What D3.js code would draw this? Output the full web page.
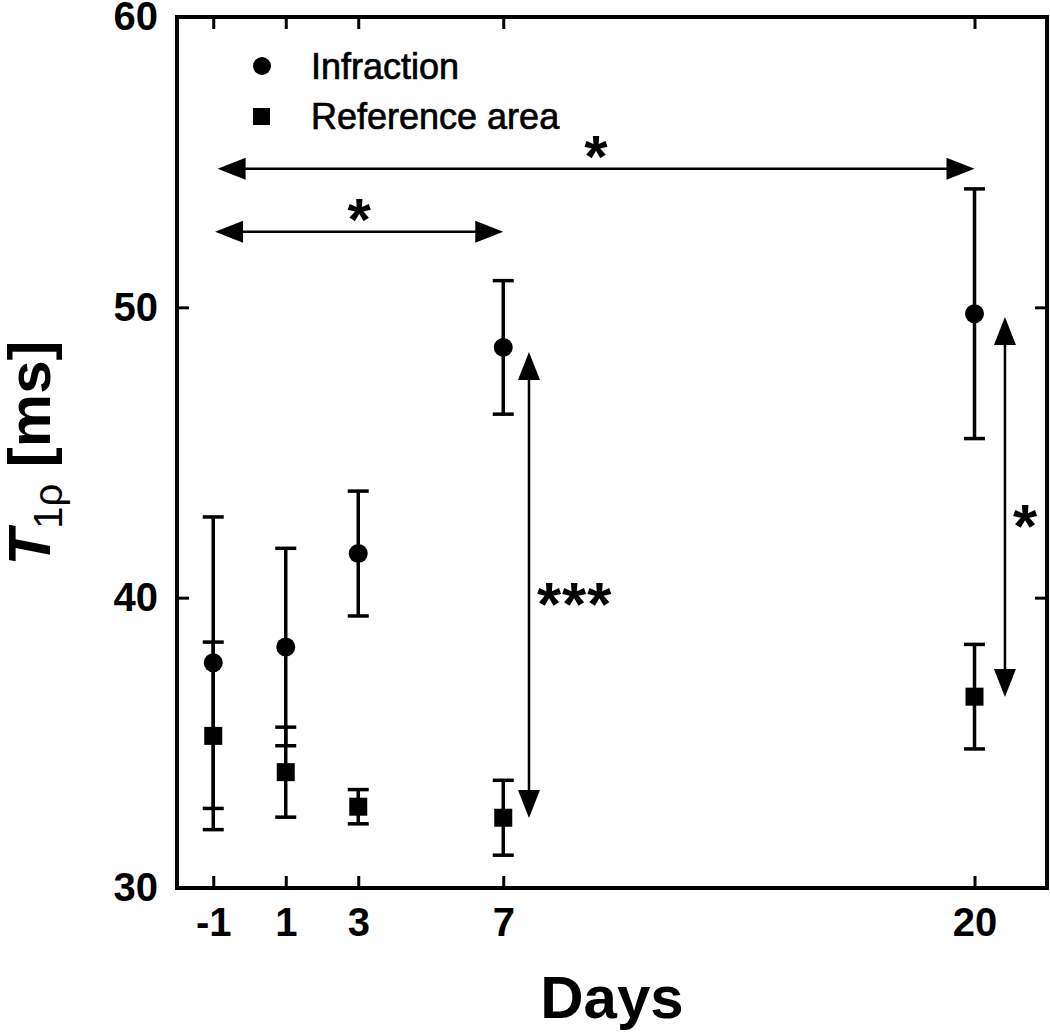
<!DOCTYPE html>
<html lang="en">
<head>
<meta charset="UTF-8">
<title>T1rho by day</title>
<script src="https://d3js.org/d3.v7.min.js"></script>
<style>
  body { margin: 0; background: white; }
  svg { display: block; font-family: "Liberation Sans", Arial, sans-serif; }
  .axis text { font-size: 40px; font-weight: bold; fill: black; }
  .axis line { stroke: black; stroke-width: 3; }
  .axis path { display: none; }
</style>
</head>
<body>
<div id="chart"></div>
<script>
// values
const days = [-1, 1, 3, 7, 20];
const infractionMean = [37.76, 38.30, 41.52, 48.62, 49.78];
const infractionErr = [5.02, 3.40, 2.15, 2.30, 4.30];
const referenceMean = [35.24, 33.99, 32.80, 32.42, 36.59];
const referenceErr = [3.23, 1.55, 0.59, 1.29, 1.80];
const yTicks = [30, 40, 50, 60];

// significance arrows (data units)
const hArrows = [
  { x1: -0.88, x2: 20, y: 54.77, label: "*" },
  { x1: -0.95, x2: 7, y: 52.6, label: "*" }
];
const vArrows = [
  { x: 7.71, y1: 48.46, y2: 32.41, label: "***" },
  { x: 20.84, y1: 49.67, y2: 36.58, label: "*" }
];

const width = 1050, height = 1032;
const plotLeft = 177, plotRight = 1047, plotTop = 17, plotBottom = 888;

const svg = d3.select("#chart").append("svg")
  .attr("width", width).attr("height", height);

const x = d3.scaleLinear().domain([-2, 22]).range([plotLeft, plotRight]);
const y = d3.scaleLinear().domain([30, 60]).range([plotBottom, plotTop]);

// axes, ticks pointing inward
svg.append("g").attr("class", "axis")
  .attr("transform", `translate(0,${plotBottom})`)
  .call(d3.axisBottom(x).tickValues(days).tickFormat(d => String(d))
    .tickSizeInner(-12).tickSizeOuter(0).tickPadding(20));
svg.append("g").attr("class", "axis")
  .attr("transform", `translate(0,${plotTop})`)
  .call(d3.axisTop(x).tickValues(days).tickSizeInner(-12).tickSizeOuter(0).tickFormat(""));
svg.append("g").attr("class", "axis")
  .attr("transform", `translate(${plotLeft},0)`)
  .call(d3.axisLeft(y).tickValues(yTicks).tickSizeInner(-12).tickSizeOuter(0).tickPadding(19));
svg.append("g").attr("class", "axis")
  .attr("transform", `translate(${plotRight},0)`)
  .call(d3.axisRight(y).tickValues(yTicks).tickSizeInner(-12).tickSizeOuter(0).tickFormat(""));

svg.append("rect")
  .attr("x", plotLeft).attr("y", plotTop)
  .attr("width", plotRight - plotLeft).attr("height", plotBottom - plotTop)
  .attr("fill", "none").attr("stroke", "black").attr("stroke-width", 4);

// axis titles
svg.append("text")
  .attr("x", (plotLeft + plotRight) / 2).attr("y", 1018)
  .attr("text-anchor", "middle")
  .attr("font-size", 60).attr("font-weight", "bold")
  .text("Days");

const yl = svg.append("text")
  .attr("transform", "translate(50,453) rotate(-90)")
  .attr("text-anchor", "middle")
  .attr("font-size", 60).attr("font-weight", "bold");
yl.append("tspan").attr("font-style", "italic").text("T");
yl.append("tspan").attr("font-size", 40).attr("font-weight", "normal").attr("dy", 12).text("1ρ");
yl.append("tspan").attr("dy", -12).text(" [ms]");

// error bars
function errorBars(means, errs) {
  const g = svg.append("g").attr("stroke", "black").attr("stroke-width", 3.5);
  days.forEach((d, i) => {
    const cx = x(d), hi = y(means[i] + errs[i]), lo = y(means[i] - errs[i]);
    g.append("line").attr("x1", cx).attr("x2", cx).attr("y1", hi).attr("y2", lo);
    g.append("line").attr("x1", cx - 10.5).attr("x2", cx + 10.5).attr("y1", hi).attr("y2", hi);
    g.append("line").attr("x1", cx - 10.5).attr("x2", cx + 10.5).attr("y1", lo).attr("y2", lo);
  });
}
errorBars(infractionMean, infractionErr);
errorBars(referenceMean, referenceErr);

svg.selectAll(".inf").data(days).enter().append("circle")
  .attr("cx", d => x(d)).attr("cy", (d, i) => y(infractionMean[i]))
  .attr("r", 9.5).attr("fill", "black");
svg.selectAll(".ref").data(days).enter().append("rect")
  .attr("x", d => x(d) - 9).attr("y", (d, i) => y(referenceMean[i]) - 9)
  .attr("width", 18).attr("height", 18).attr("fill", "black");

// legend
svg.append("circle").attr("cx", 262).attr("cy", 66).attr("r", 9).attr("fill", "black");
svg.append("rect").attr("x", 253).attr("y", 108).attr("width", 17).attr("height", 17).attr("fill", "black");
svg.append("text").attr("x", 311).attr("y", 79).attr("font-size", 36)
  .attr("stroke", "black").attr("stroke-width", 0.7).text("Infraction");
svg.append("text").attr("x", 311).attr("y", 129).attr("font-size", 36)
  .attr("stroke", "black").attr("stroke-width", 0.7).text("Reference area");

// arrows
const headL = 28, headW = 11;
const ag = svg.append("g");
hArrows.forEach(a => {
  const x1 = x(a.x1), x2 = x(a.x2), yy = y(a.y);
  ag.append("line").attr("x1", x1 + headL - 2).attr("x2", x2 - headL + 2)
    .attr("y1", yy).attr("y2", yy).attr("stroke", "black").attr("stroke-width", 2.5);
  ag.append("path").attr("d", `M${x1},${yy}L${x1 + headL},${yy - headW}L${x1 + headL},${yy + headW}Z`);
  ag.append("path").attr("d", `M${x2},${yy}L${x2 - headL},${yy - headW}L${x2 - headL},${yy + headW}Z`);
  ag.append("text").attr("x", (x1 + x2) / 2).attr("y", yy + 8)
    .attr("text-anchor", "middle").attr("font-size", 60).attr("font-weight", "bold")
    .text(a.label);
});
vArrows.forEach((a, i) => {
  const xx = x(a.x), y1 = y(a.y1), y2 = y(a.y2);
  ag.append("line").attr("x1", xx).attr("x2", xx)
    .attr("y1", y1 + headL - 2).attr("y2", y2 - headL + 2)
    .attr("stroke", "black").attr("stroke-width", 2.5);
  ag.append("path").attr("d", `M${xx},${y1}L${xx - headW},${y1 + headL}L${xx + headW},${y1 + headL}Z`);
  ag.append("path").attr("d", `M${xx},${y2}L${xx - headW},${y2 - headL}L${xx + headW},${y2 - headL}Z`);
  ag.append("text").attr("x", xx + 8).attr("y", (y1 + y2) / 2 + 40)
    .attr("font-size", 62).attr("font-weight", "bold")
    .attr("letter-spacing", 1)
    .text(a.label);
});
</script>
</body>
</html>
